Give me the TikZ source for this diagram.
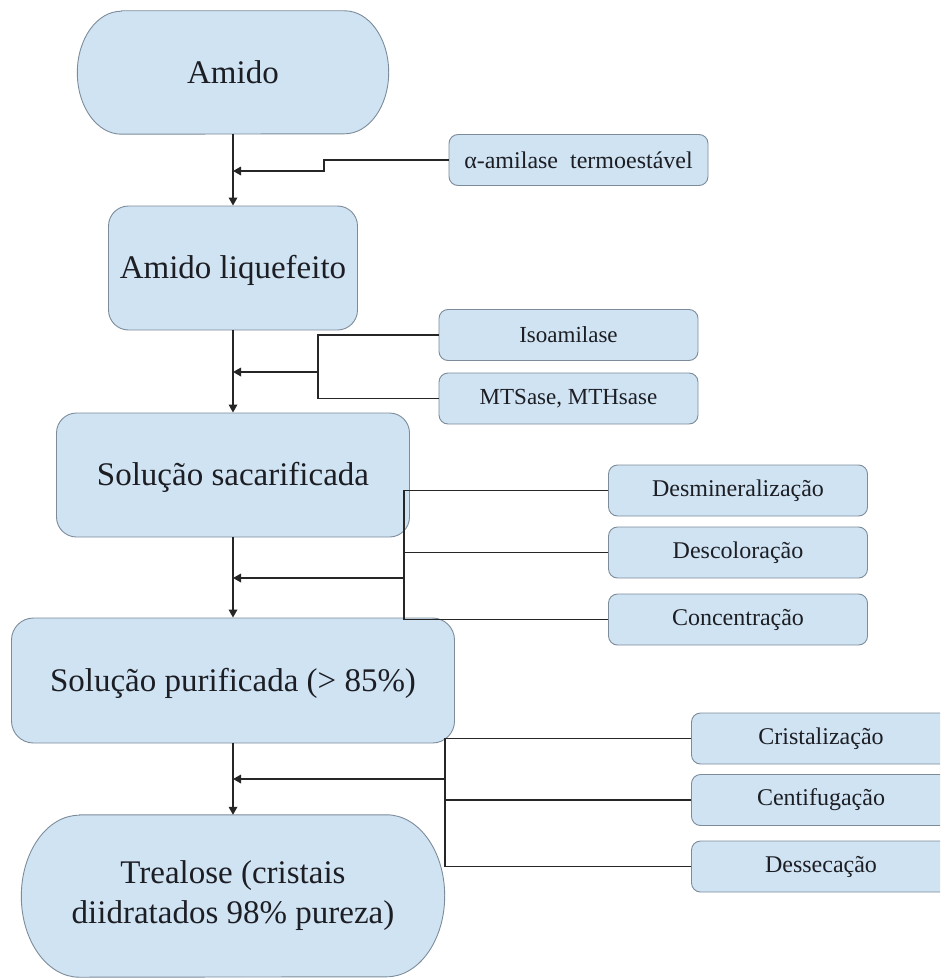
\documentclass[tikz,border=0pt]{standalone}
\usepackage{fontspec}
\setmainfont{Liberation Serif}
\usetikzlibrary{arrows.meta,backgrounds,calc}
\definecolor{boxfill}{RGB}{208,227,243}
\definecolor{boxline}{RGB}{125,140,155}
\definecolor{txt}{RGB}{28,30,36}
\tikzset{
  mainbox/.style={draw=boxline, fill=boxfill, rounded corners=20pt, line width=0.9pt, text=txt,
    font=\fontsize{33}{40}\selectfont, align=center, inner sep=0pt, text depth=2pt},
  termtext/.style={text=txt, font=\fontsize{33}{40}\selectfont, align=center, inner sep=0pt},
  termshape/.style={draw=boxline, fill=boxfill, line width=0.9pt},
  sidebox/.style={draw=boxline, fill=boxfill, rounded corners=9pt, line width=0.9pt, text=txt,
    font=\fontsize{24}{28}\selectfont, minimum width=259pt, minimum height=51pt, inner sep=0pt},
  conn/.style={line width=1.7pt, draw=black!85},
  arr/.style={conn, -{Triangle[length=8pt,width=8.5pt]}}
}
\begin{document}
\begin{tikzpicture}[x=1pt,y=-1pt]
\useasboundingbox (0,0) rectangle (940,979);
\clip (0,0) rectangle (940,979);

% main flow
\node[termtext, minimum width=311pt, minimum height=123pt] (amido) at (233,72.5) {Amido};
\node[mainbox, minimum width=249pt, minimum height=124pt] (liq) at (233,268) {Amido liquefeito};
\node[mainbox, minimum width=353pt, minimum height=124pt] (sac) at (233,475) {Solução sacarificada};
\node[mainbox, minimum width=443pt, minimum height=125pt, rounded corners=22pt] (pur) at (233,680.5) {Solução purificada (> 85\%)};
\node[termtext, minimum width=423pt, minimum height=162pt] (tre) at (233,896) {Trealose (cristais\\diidratados 98\% pureza)};

% side boxes
\node[sidebox] (alfa) at (578.5,160) {α-amilase\ \ termoestável};
\node[sidebox, font=\fontsize{23}{27}\selectfont] (iso) at (568.5,335) {Isoamilase};
\node[sidebox, font=\fontsize{23}{27}\selectfont] (mts) at (568.5,398.5) {MTSase, MTHsase};
\node[sidebox] (desm) at (738,490.5) {Desmineralização};
\node[sidebox] (desc) at (738,552.5) {Descoloração};
\node[sidebox] (conc) at (738,619.5) {Concentração};
\node[sidebox] (crist) at (821,738.5) {Cristalização};
\node[sidebox] (cent) at (821,800) {Centifugação};
\node[sidebox] (dess) at (821,866.5) {Dessecação};

% terminator outlines (behind their texts)
\begin{scope}[on background layer]
\fill[white] (0,0) rectangle (940,979);
\draw[termshape] ($(amido.north west)+(44,0)$) -- ($(amido.north east)+(-44,0)$)
  arc[start angle=90,end angle=-90,x radius=44pt,y radius=61.5pt]
  -- ($(amido.south west)+(44,0)$)
  arc[start angle=270,end angle=90,x radius=44pt,y radius=61.5pt] -- cycle;
\draw[termshape] ($(tre.north west)+(58,0)$) -- ($(tre.north east)+(-58,0)$)
  arc[start angle=90,end angle=-90,x radius=58pt,y radius=81pt]
  -- ($(tre.south west)+(58,0)$)
  arc[start angle=270,end angle=90,x radius=58pt,y radius=81pt] -- cycle;
\end{scope}

% junction coordinates
\coordinate (k1) at (324,160);
\coordinate (k2) at (324,171);
\coordinate (a1) at (233,171);
\coordinate (b1) at (318,372);
\coordinate (a2) at (233,372);
\coordinate (b2) at (404,578);
\coordinate (a3) at (233,578);
\coordinate (b3) at (445,779);
\coordinate (a4) at (233,779);

% main arrows
\draw[arr] (amido.south) -- (liq.north);
\draw[arr] (liq.south) -- (sac.north);
\draw[arr] (sac.south) -- (pur.north);
\draw[arr] (pur.south) -- (tre.north);

% alpha-amylase
\draw[arr] (alfa.west) -- (k1) -- (k2) -- (a1);

% isoamilase / MTSase
\draw[conn] (iso.west) -| (b1) |- (mts.west);
\draw[arr] (b1) -- (a2);

% purification
\draw[conn] (desm.west) -| (b2);
\draw[conn] (desc.west) -- (desc.west -| b2);
\draw[conn] (conc.west) -| (b2);
\draw[arr] (b2) -- (a3);

% crystallisation
\draw[conn] (crist.west) -| (b3);
\draw[conn] (cent.west) -- (cent.west -| b3);
\draw[conn] (dess.west) -| (b3);
\draw[arr] (b3) -- (a4);
\end{tikzpicture}
\end{document}
